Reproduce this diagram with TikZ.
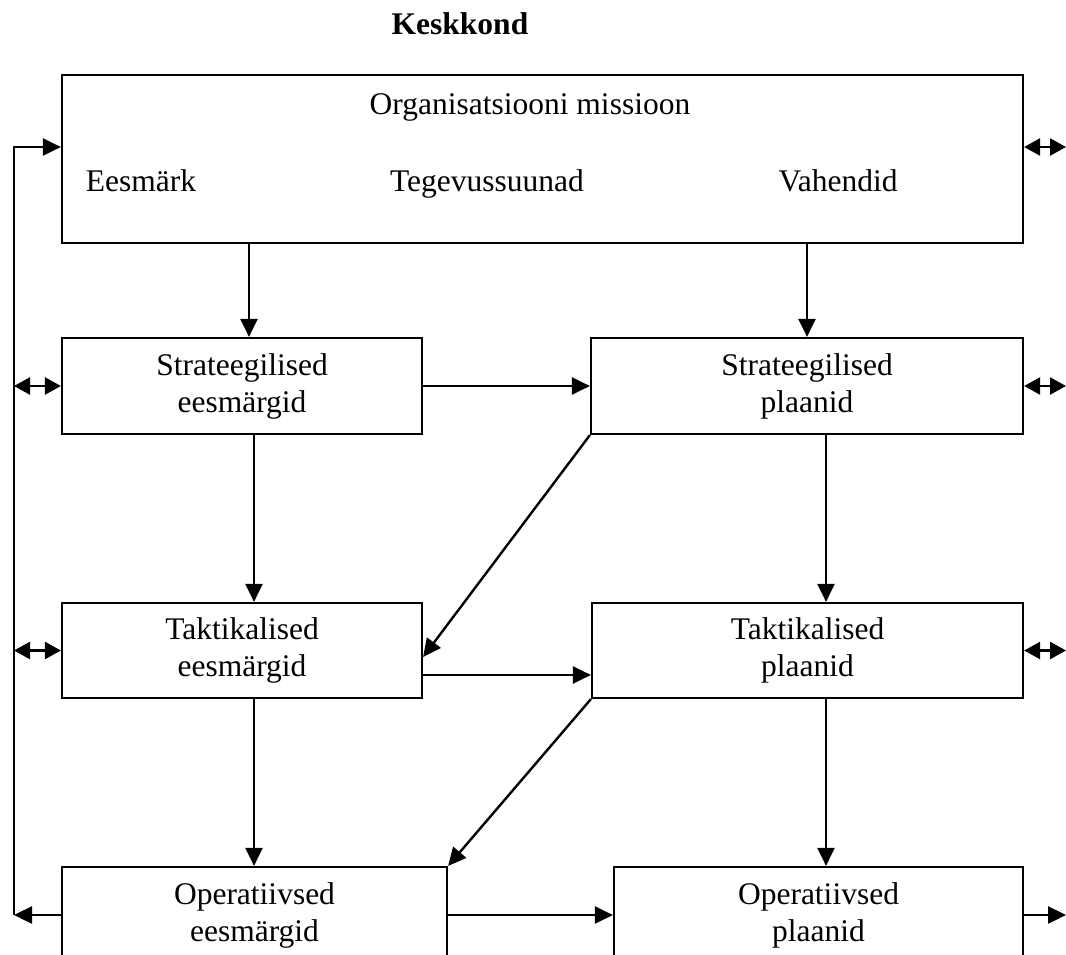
\documentclass[tikz,border=0pt]{standalone}
\usepackage{fontspec}
\setmainfont{Liberation Serif}
\usetikzlibrary{arrows.meta,calc}
\begin{document}
\begin{tikzpicture}[x=1pt,y=-1pt,
  box/.style={draw,line width=2.2pt,align=center,inner sep=0pt,
    font=\fontsize{31.5}{37}\selectfont},
  lbl/.style={inner sep=0pt,font=\fontsize{31.5}{37}\selectfont},
  arr/.style={line width=2.4pt,-{Triangle[length=18pt,width=17pt]}},
  darr/.style={line width=2.4pt,{Triangle[length=16pt,width=17pt]}-{Triangle[length=16pt,width=17pt]}}]
\useasboundingbox (0,0) rectangle (1066,955);
% title
\node[lbl,anchor=base,font=\fontsize{31.5}{37}\selectfont\bfseries] (title) at (460,35) {Keskkond};
% boxes
\node[box,minimum width=961pt,minimum height=168pt] (top) at (542.5,159) {};
\node[lbl,anchor=base] (mission) at (530,115) {Organisatsiooni missioon};
\node[lbl,anchor=base] (goal) at (141,192) {Eesmärk};
\node[lbl,anchor=base] (dir) at (487,192) {Tegevussuunad};
\node[lbl,anchor=base] (means) at (838,192) {Vahendid};
\node[box,minimum width=360pt,minimum height=96pt] (sg) at (242,386) {Strateegilised\\eesmärgid};
\node[box,minimum width=432pt,minimum height=96pt] (sp) at (807,386) {Strateegilised\\plaanid};
\node[box,minimum width=360pt,minimum height=95pt] (tg) at (242,650.5) {Taktikalised\\eesmärgid};
\node[box,minimum width=431pt,minimum height=95pt] (tp) at (807.5,650.5) {Taktikalised\\plaanid};
\node[box,minimum width=385pt,minimum height=96pt] (og) at (254.5,915) {Operatiivsed\\eesmärgid};
\node[box,minimum width=409pt,minimum height=96pt] (op) at (818.5,915) {Operatiivsed\\plaanid};
\coordinate (fb) at (14,0);
\coordinate (fr) at (1066,0);
\coordinate (topL) at ([yshift=12pt]top.west);
\coordinate (topR) at ([yshift=12pt]top.east);
% vertical flows
\draw[arr] ([xshift=7pt]sg.north |- top.south) -- ([xshift=7pt]sg.north);
\draw[arr] (sp.north |- top.south) -- (sp.north);
\draw[arr] ([xshift=12pt]sg.south) -- ([xshift=12pt]sg.south |- tg.north);
\draw[arr] ([xshift=19pt]sp.south) -- ([xshift=19pt]sp.south |- tp.north);
\draw[arr] ([xshift=12pt]tg.south) -- ([xshift=12pt]tg.south |- og.north);
\draw[arr] ([xshift=18.5pt]tp.south) -- ([xshift=18.5pt]tp.south |- op.north);
% horizontal flows
\draw[arr] (sg.east) -- (sg.east -| sp.west);
\draw[arr] ([yshift=-24.5pt]tg.east) -- ([yshift=-24.5pt]tg.east -| tp.west);
\draw[arr] (og.east) -- (og.east -| op.west);
% diagonals
\draw[arr] (sp.south west) -- ([yshift=-6.5pt]tg.east);
\draw[arr] (tp.south west) -- (og.north east);
% feedback on the left
\draw[arr] (og.west) -- (og.west -| fb);
\draw[arr] (fb |- og.west) -- (fb |- topL) -- (topL);
\draw[darr] (fb |- sg.west) -- (sg.west);
\draw[darr] (fb |- tg.west) -- (tg.west);
% environment on the right
\draw[darr] (topR) -- (fr |- topR);
\draw[darr] (sp.east) -- (sp.east -| fr);
\draw[darr] (tp.east) -- (tp.east -| fr);
\draw[arr] (op.east) -- (op.east -| fr);
\end{tikzpicture}
\end{document}
